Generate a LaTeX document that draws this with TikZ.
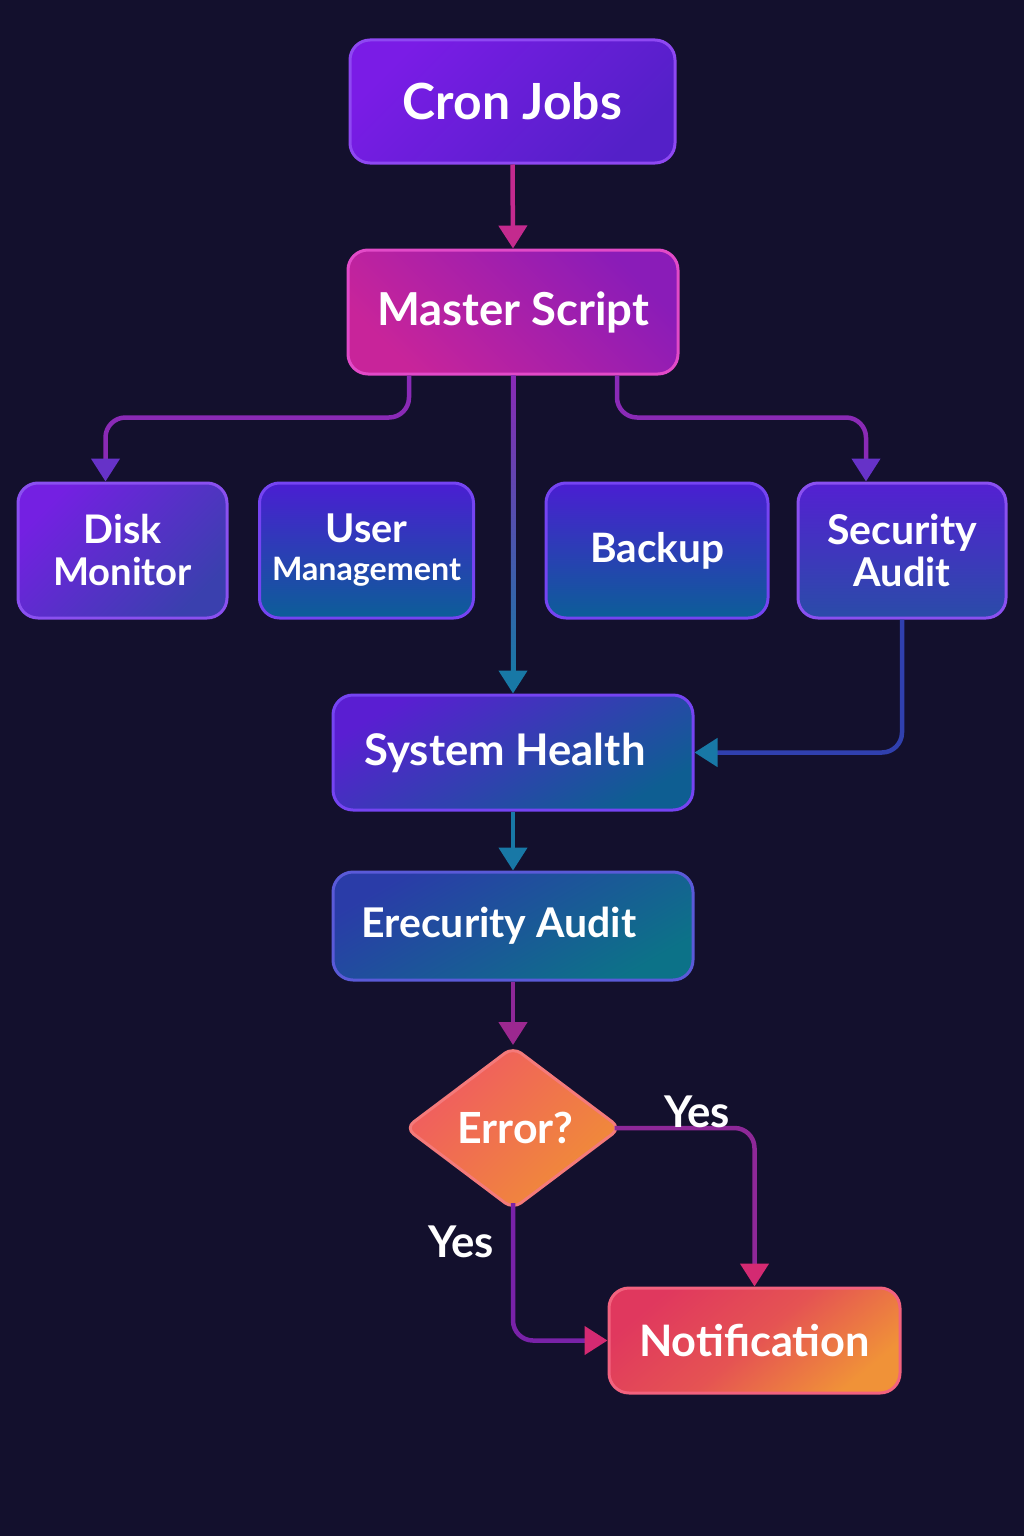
\documentclass[tikz,border=0pt]{standalone}
\usepackage{fontspec}
\setmainfont{Lato}
\usetikzlibrary{arrows.meta,shapes.geometric,calc}
\definecolor{bg}{HTML}{13102D}
\definecolor{cronA}{HTML}{7A1CE6}\definecolor{cronB}{HTML}{5420C8}\definecolor{cronD}{HTML}{8E48F2}
\definecolor{msA}{HTML}{C8249A}\definecolor{msB}{HTML}{8A1CB8}\definecolor{msD}{HTML}{E24AC8}
\definecolor{dkA}{HTML}{7420E2}\definecolor{dkB}{HTML}{3A40AE}\definecolor{boxD}{HTML}{8A50F0}
\definecolor{umA}{HTML}{4A1ED2}\definecolor{umB}{HTML}{0C5E98}
\definecolor{saA}{HTML}{5420D2}\definecolor{saB}{HTML}{2A4CA8}
\definecolor{shA}{HTML}{5A1ED2}\definecolor{shB}{HTML}{0E5E92}
\definecolor{eaA}{HTML}{2A3CA8}\definecolor{eaB}{HTML}{0C7288}\definecolor{eaD}{HTML}{5A5AD8}
\definecolor{erA}{HTML}{F05A62}\definecolor{erB}{HTML}{F08E36}\definecolor{erD}{HTML}{F47A7A}
\definecolor{ntA}{HTML}{E0385E}\definecolor{ntB}{HTML}{F09238}\definecolor{ntD}{HTML}{F2627E}
\definecolor{lnMag}{HTML}{C42A8E}
\definecolor{lnPur}{HTML}{8A2AB6}
\definecolor{tipPur}{HTML}{6632C8}
\definecolor{lnTeal}{HTML}{1878A6}
\definecolor{lnBlue}{HTML}{3040AE}
\definecolor{lnPlum}{HTML}{8E2898}
\definecolor{tipPink}{HTML}{D42A72}
\newcommand\tw[2]{\resizebox{#1pt}{!}{#2}}
\tikzset{
  box/.style={draw, line width=3pt, rounded corners=20pt, inner sep=0pt, text=white,
    font=\fontsize{40}{42}\selectfont\bfseries, align=center},
  conn/.style={line width=4.5pt, -{Triangle[width=28pt,length=23pt]}},
  lbl/.style={text=white, font=\fontsize{40}{42}\selectfont\bfseries, inner sep=0pt}
}
\begin{document}
\begin{tikzpicture}[x=1pt,y=-1pt]
\fill[bg] (0,0) rectangle (1024,1536);
\useasboundingbox (0,0) rectangle (1024,1536);

\node[box, draw=cronD, top color=cronA, bottom color=cronB, shading angle=45,
  minimum width=325pt, minimum height=123pt] (cron) at (512.5,101.5) {\tw{219}{Cron Jobs}};
\node[box, draw=msD, top color=msA, bottom color=msB, shading angle=135,
  minimum width=330pt, minimum height=124pt] (master) at (513,312) {\tw{272}{Master Script}};
\node[box, draw=boxD, top color=dkA, bottom color=dkB, shading angle=45,
  minimum width=209pt, minimum height=135pt] (disk) at (122.5,550.5) {\tw{78}{Disk}\\\tw{139}{Monitor}};
\node[box, draw=boxD!85!blue, top color=umA, bottom color=umB,
  minimum width=214pt, minimum height=135pt] (user) at (366.5,550.5) {\tw{82}{User}\\[-4pt]\tw{189}{Management}};
\node[box, draw=boxD!85!blue, top color=umA, bottom color=umB,
  minimum width=222pt, minimum height=135pt] (backup) at (657,550.5) {\tw{134}{Backup}};
\node[box, draw=boxD, top color=saA, bottom color=saB,
  minimum width=208pt, minimum height=135pt] (sec) at (902,550.5) {\tw{150}{Security}\\\tw{97}{Audit}};
\node[box, draw=boxD!85!blue, top color=shA, bottom color=shB, shading angle=30,
  minimum width=360pt, minimum height=115pt] (sh) at (513,752.5) {\tw{281}{System Health}\hspace{16pt}};
\node[box, draw=eaD, top color=eaA, bottom color=eaB, shading angle=30,
  minimum width=360pt, minimum height=108pt] (ea) at (513,926) {\tw{275}{Erecurity Audit}\hspace{28pt}};
\node[box, shape=diamond, aspect=1.33, rounded corners=10pt, draw=erD, top color=erA, bottom color=erB, shading angle=45,
  minimum width=216pt, minimum height=163pt] (err) at (513,1128) {\hspace{5pt}\tw{116}{Error?}};
\node[box, draw=ntD, top color=ntA, bottom color=ntB, middle color=ntA!70!ntB, shading angle=40,
  minimum width=291pt, minimum height=105pt] (notif) at (754.5,1340.5) {\tw{231}{Notification}};

% connectors
\draw[conn, lnMag] (cron.south) -- (master.north);
\draw[conn, lnPur, rounded corners=20pt, -{Triangle[width=28pt,length=23pt,color=tipPur]}]
  ([xshift=-104pt]master.south) -- ++(0,42) -| ([xshift=-17pt]disk.north);
\draw[conn, lnPur, rounded corners=20pt, -{Triangle[width=28pt,length=23pt,color=tipPur]}]
  ([xshift=104pt]master.south) -- ++(0,42) -| ([xshift=-36pt]sec.north);
\shade[top color=lnPur, bottom color=lnTeal] ($(master.south)+(-2.25,0)$) rectangle ($(sh.north)+(2.25,-20)$);
\draw[conn, lnTeal] ($(sh.north)+(0,-22)$) -- (sh.north);
\draw[conn, lnBlue, rounded corners=20pt, -{Triangle[width=28pt,length=23pt,color=lnTeal]}]
  (sec.south) |- (sh.east);
\draw[conn, lnTeal] (sh.south) -- (ea.north);
\draw[conn, lnPlum, -{Triangle[width=28pt,length=23pt,color=lnPlum!80!tipPink]}] (ea.south) -- (err.north);
\draw[conn, lnPlum, rounded corners=20pt, -{Triangle[width=28pt,length=23pt,color=tipPink]}]
  ([xshift=-8pt]err.east) -| (notif.north);
\draw[conn, lnPlum!85!blue, rounded corners=20pt, -{Triangle[width=28pt,length=23pt,color=tipPink]}]
  ([yshift=8pt]err.south) |- (notif.west);
\node[lbl] (yes1) at (697,1112) {\tw{66}{Yes}};
\node[lbl] (yes2) at (461,1242) {\tw{66}{Yes}};
\end{tikzpicture}
\end{document}
